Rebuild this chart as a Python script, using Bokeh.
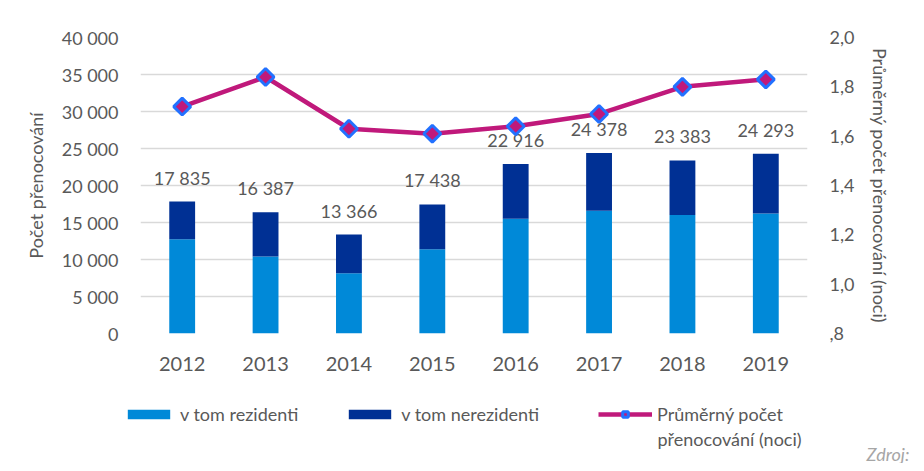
from math import pi

from bokeh.plotting import figure
from bokeh.layouts import column
from bokeh.models import (FactorRange, Range1d, LinearAxis, FixedTicker, CustomJSTickFormatter,
                          Legend, LegendItem, Label, ColumnDataSource)
from bokeh.embed import file_html
from bokeh.resources import INLINE
from bokeh.core.properties import value

# ---------------- data ----------------
years = ["2012", "2013", "2014", "2015", "2016", "2017", "2018", "2019"]
totals = [17835, 16387, 13366, 17438, 22916, 24378, 23383, 24293]
residents = [12750, 10400, 8150, 11400, 15500, 16600, 16000, 16200]
nonresidents = [t - r for t, r in zip(totals, residents)]
avg_nights = [1.72, 1.84, 1.63, 1.61, 1.64, 1.69, 1.80, 1.83]

left_ticks = [0, 5000, 10000, 15000, 20000, 25000, 30000, 35000, 40000]
right_ticks = [0.8, 1.0, 1.2, 1.4, 1.6, 1.8, 2.0]

series_names = ["v tom rezidenti", "v tom nerezidenti", "Průměrný počet", "přenocování (noci)"]
left_title = "Počet přenocování"
right_title = "Průměrný počet přenocování (noci)"
source_note = "Zdroj:"

# ---------------- style ----------------
FONT = "Lato"
TXT = "#595959"
C_RES = "#0089D8"
C_NONRES = "#003094"
C_LINE = "#C0197B"
C_MARK_EDGE = "#2271FF"
GRID = "#D9D9D9"
W = 916
MAIN_H = 374
LEG_H = 89

labels = [f"{v:,}".replace(",", " ") for v in totals]

src = ColumnDataSource(dict(years=years, res=residents, nonres=nonresidents,
                            total=totals, labels=labels, avg=avg_nights))

p = figure(x_range=FactorRange(*years), y_range=Range1d(0, 40000),
           width=W, height=MAIN_H, output_backend="svg", toolbar_location=None,
           min_border_left=140, min_border_right=109, min_border_top=37, min_border_bottom=41)
p.extra_y_ranges = {"right": Range1d(0.8, 2.0)}
p.outline_line_color = None
p.background_fill_color = "white"
p.border_fill_color = "white"

# left axis
ya = p.yaxis[0]
ya.ticker = FixedTicker(ticks=left_ticks)
ya.formatter = CustomJSTickFormatter(code="return Math.round(tick).toString().replace(/\\B(?=(\\d{3})+(?!\\d))/g, ' ');")
ya.axis_label = left_title
ya.axis_line_color = None
ya.major_tick_line_color = None
ya.minor_tick_line_color = None
ya.major_label_standoff = 16
ya.axis_label_standoff = 12
ya.major_label_text_font = FONT
ya.major_label_text_font_size = "18px"
ya.major_label_text_color = TXT
ya.axis_label_text_font = FONT
ya.axis_label_text_font_size = "18px"
ya.axis_label_text_font_style = "normal"
ya.axis_label_text_color = TXT

# right axis
ra = LinearAxis(y_range_name="right", ticker=FixedTicker(ticks=right_ticks),
                formatter=CustomJSTickFormatter(code="var s = tick.toFixed(1).replace('.', ','); if (s.charAt(0) == '0') { s = s.substring(1); } return s;"),
                axis_label=right_title)
ra.axis_line_color = None
ra.major_tick_line_color = None
ra.minor_tick_line_color = None
ra.major_label_standoff = 16
ra.axis_label_standoff = 12
ra.major_label_text_font = FONT
ra.major_label_text_font_size = "18px"
ra.major_label_text_color = TXT
ra.axis_label_text_font = FONT
ra.axis_label_text_font_size = "18px"
ra.axis_label_text_font_style = "normal"
ra.axis_label_text_color = TXT
p.add_layout(ra, "right")

# x axis
xa = p.xaxis[0]
xa.axis_line_color = None
xa.major_tick_line_color = None
xa.minor_tick_line_color = None
xa.major_label_standoff = 17
xa.major_label_text_font = FONT
xa.major_label_text_font_size = "20px"
xa.major_label_text_color = TXT

p.xgrid.grid_line_color = None
p.ygrid.grid_line_color = GRID
p.ygrid.grid_line_width = 1.5

# bars
bars = p.vbar_stack(["res", "nonres"], x="years", width=0.31, color=[C_RES, C_NONRES],
                    line_color=None, source=src)

# totals labels
p.text("years", "total", text="labels", source=src, text_align="center", text_baseline="middle",
       y_offset=-24, text_font=value(FONT), text_font_size="18px", text_color=TXT)

# line
LINE_STYLE = dict(line_color=C_LINE, line_width=4.5)
MARK_STYLE = dict(marker="square", angle=pi / 4, fill_color=C_LINE,
                  line_color=C_MARK_EDGE, line_width=3)
ln = p.line("years", "avg", source=src, y_range_name="right", **LINE_STYLE)
mk = p.scatter("years", "avg", source=src, y_range_name="right", size=12, **MARK_STYLE)

# ---------------- legend strip (second figure, same width) ----------------
lf = figure(width=W, height=LEG_H, x_range=Range1d(0, 1), y_range=Range1d(0, 1),
            output_backend="svg", toolbar_location=None, min_border=0,
            x_axis_location=None, y_axis_location=None)
for fig in (p, lf):
    if "frame_align" in fig.properties():
        fig.frame_align = False
lf.outline_line_color = None
lf.grid.visible = False
lf.background_fill_color = "white"
lf.border_fill_color = "white"

# legend-only glyph renderers, each holding one point outside the visible range
g_res = lf.vbar(x=[-9], top=[-9], width=0.3, color=C_RES, line_color=None)
g_non = lf.vbar(x=[-9], top=[-9], width=0.3, color=C_NONRES, line_color=None)
g_ln = lf.line(x=[-9, -8], y=[-9, -9], **LINE_STYLE)
g_mk = lf.scatter(x=[-9], y=[-9], size=12, **MARK_STYLE)

LEG_STYLE = dict(orientation="horizontal", label_standoff=5, spacing=45, label_height=22,
                 padding=0, margin=0, border_line_color=None, background_fill_alpha=0,
                 label_text_font=FONT, label_text_font_size="18px", label_text_color=TXT)

leg_bars = Legend(items=[LegendItem(label=series_names[0], renderers=[g_res]),
                         LegendItem(label=series_names[1], renderers=[g_non])],
                  location=(122, 38), glyph_width=53, glyph_height=12, **LEG_STYLE)
leg_line = Legend(items=[LegendItem(label=series_names[2], renderers=[g_ln, g_mk])],
                  location=(598, 38), glyph_width=54, glyph_height=14, **LEG_STYLE)
lf.add_layout(leg_bars, "center")
lf.add_layout(leg_line, "center")

lf.add_layout(Label(x=657, y=25, x_units="screen", y_units="screen", text=series_names[3],
                    text_font=FONT, text_font_size="18px", text_color=TXT, text_baseline="middle"))
lf.add_layout(Label(x=866, y=10, x_units="screen", y_units="screen", text=source_note,
                    text_font=FONT, text_font_size="18px", text_color="#A6A6A6",
                    text_font_style="italic", text_baseline="middle"))

layout = column(p, lf, spacing=0)
open("out.html", "w").write(file_html(layout, INLINE))
